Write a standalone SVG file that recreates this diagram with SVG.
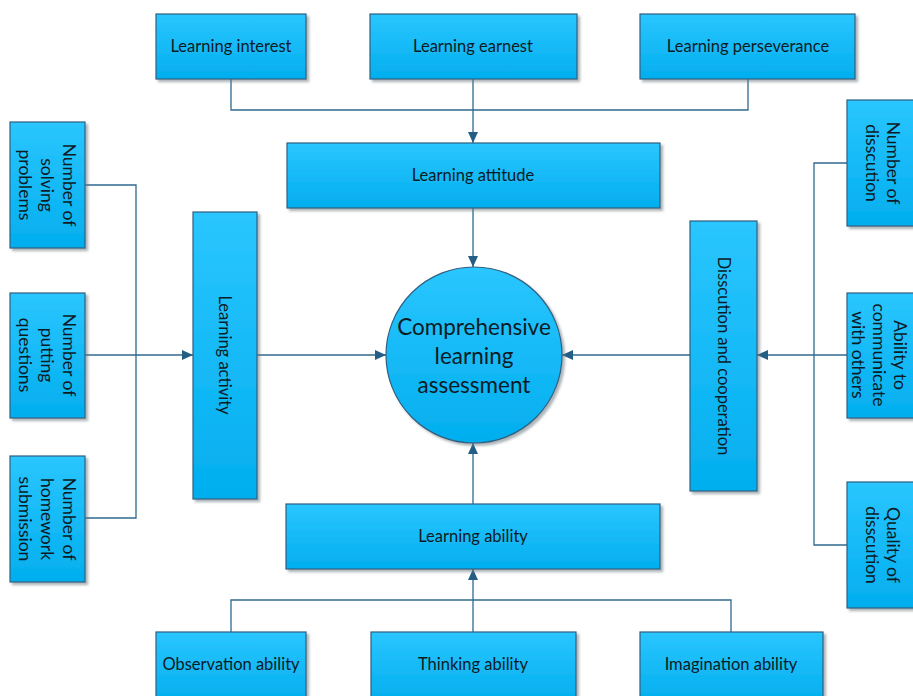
<svg xmlns="http://www.w3.org/2000/svg" width="913" height="696" viewBox="0 0 913 696">
  <defs>
    <linearGradient id="boxFill" x1="0" y1="0" x2="0" y2="1">
      <stop offset="0" stop-color="#2AC6FF"/>
      <stop offset="1" stop-color="#02AEEE"/>
    </linearGradient>
    <filter id="shadow" x="-10%" y="-10%" width="130%" height="130%">
      <feDropShadow dx="2.5" dy="2.5" stdDeviation="1" flood-color="#6b7780" flood-opacity="0.55"/>
    </filter>
    <marker id="arrow" markerWidth="12" markerHeight="10" refX="11" refY="5" orient="auto" markerUnits="userSpaceOnUse">
      <path d="M0,0 L11,5 L0,10 Z" fill="#245E85"/>
    </marker>
  </defs>
  <style>
    .box { fill: url(#boxFill); stroke: #2F5F80; stroke-width: 1.2; filter: url(#shadow); }
    .lbl { font-family: Lato, "Liberation Sans", sans-serif; font-size: 16.5px; fill: #0c1b25; text-anchor: middle; dominant-baseline: central; }
    .sm { font-size: 17.5px; }
    .big { font-size: 22.5px; }
    .wire { fill: none; stroke: #2F6A8E; stroke-width: 1.3; }
    .arr { fill: none; stroke: #2F6A8E; stroke-width: 1.3; marker-end: url(#arrow); }
  </style>

  <rect width="913" height="696" fill="#ffffff"/>

  <!-- connectors -->
  <g id="connectors">
    <!-- attitude branch -->
    <polyline class="wire" points="231,79 231,110 748,110 748,79"/>
    <line class="arr" x1="473" y1="79" x2="473" y2="143"/>
    <line class="arr" x1="473" y1="208" x2="473" y2="267"/>
    <!-- activity branch -->
    <polyline class="wire" points="85,185 136,185 136,518 85,518"/>
    <line class="arr" x1="85" y1="355" x2="193" y2="355"/>
    <line class="arr" x1="257" y1="355" x2="386" y2="355"/>
    <!-- discussion branch -->
    <polyline class="wire" points="847,163 814,163 814,545 847,545"/>
    <line class="arr" x1="847" y1="355" x2="757" y2="355"/>
    <line class="arr" x1="690" y1="355" x2="562" y2="355"/>
    <!-- ability branch -->
    <polyline class="wire" points="231,632 231,600 731,600 731,632"/>
    <line class="arr" x1="473" y1="632" x2="473" y2="569"/>
    <line class="arr" x1="473" y1="504" x2="473" y2="443"/>
  </g>

  <!-- top row -->
  <g id="learning-interest">
    <rect class="box" x="156" y="14" width="150" height="65"/>
    <text class="lbl" x="231" y="46">Learning interest</text>
  </g>
  <g id="learning-earnest">
    <rect class="box" x="370" y="14" width="207" height="65"/>
    <text class="lbl" x="473" y="46">Learning earnest</text>
  </g>
  <g id="learning-perseverance">
    <rect class="box" x="640" y="14" width="215" height="65"/>
    <text class="lbl" x="748" y="46">Learning perseverance</text>
  </g>

  <g id="learning-attitude">
    <rect class="box" x="287" y="143" width="373" height="65"/>
    <text class="lbl" x="473" y="175">Learning attitude</text>
  </g>

  <!-- centre -->
  <g id="comprehensive-assessment">
    <circle class="box" cx="474" cy="355" r="88"/>
    <text class="lbl big" x="474" y="326">Comprehensive</text>
    <text class="lbl big" x="474" y="355">learning</text>
    <text class="lbl big" x="474" y="384">assessment</text>
  </g>

  <!-- left column -->
  <g id="learning-activity">
    <rect class="box" x="193" y="212" width="64" height="287"/>
    <text class="lbl" transform="translate(225,355) rotate(90)">Learning activity</text>
  </g>
  <g id="solving-problems">
    <rect class="box" x="10" y="122" width="75" height="126"/>
    <g transform="translate(47.5,185) rotate(90)">
      <text class="lbl sm" x="0" y="-22">Number of</text>
      <text class="lbl sm" x="0" y="0">solving</text>
      <text class="lbl sm" x="0" y="22">problems</text>
    </g>
  </g>
  <g id="putting-questions">
    <rect class="box" x="10" y="293" width="75" height="125"/>
    <g transform="translate(47.5,355) rotate(90)">
      <text class="lbl sm" x="0" y="-22">Number of</text>
      <text class="lbl sm" x="0" y="0">putting</text>
      <text class="lbl sm" x="0" y="22">questions</text>
    </g>
  </g>
  <g id="homework-submission">
    <rect class="box" x="10" y="456" width="75" height="126"/>
    <g transform="translate(47.5,519) rotate(90)">
      <text class="lbl sm" x="0" y="-22">Number of</text>
      <text class="lbl sm" x="0" y="0">homework</text>
      <text class="lbl sm" x="0" y="22">submission</text>
    </g>
  </g>

  <!-- right column -->
  <g id="discussion-cooperation">
    <rect class="box" x="690" y="221" width="67" height="270"/>
    <text class="lbl" transform="translate(723.5,356) rotate(90)">Disscution and cooperation</text>
  </g>
  <g id="number-of-discussion">
    <rect class="box" x="847" y="100" width="75" height="126"/>
    <g transform="translate(883,163) rotate(90)">
      <text class="lbl sm" x="0" y="-10.5">Number of</text>
      <text class="lbl sm" x="0" y="10.5">disscution</text>
    </g>
  </g>
  <g id="communicate-with-others">
    <rect class="box" x="847" y="293" width="75" height="125"/>
    <g transform="translate(879,355) rotate(90)">
      <text class="lbl sm" x="0" y="-21">Ability to</text>
      <text class="lbl sm" x="0" y="0">communicate</text>
      <text class="lbl sm" x="0" y="21">with others</text>
    </g>
  </g>
  <g id="quality-of-discussion">
    <rect class="box" x="847" y="482" width="75" height="126"/>
    <g transform="translate(883,545) rotate(90)">
      <text class="lbl sm" x="0" y="-10.5">Quality of</text>
      <text class="lbl sm" x="0" y="10.5">disscution</text>
    </g>
  </g>

  <!-- bottom -->
  <g id="learning-ability">
    <rect class="box" x="286" y="504" width="374" height="65"/>
    <text class="lbl" x="473" y="536">Learning ability</text>
  </g>
  <g id="observation-ability">
    <rect class="box" x="156" y="632" width="150" height="70"/>
    <text class="lbl" x="231" y="664">Observation ability</text>
  </g>
  <g id="thinking-ability">
    <rect class="box" x="371" y="632" width="205" height="70"/>
    <text class="lbl" x="473" y="664">Thinking ability</text>
  </g>
  <g id="imagination-ability">
    <rect class="box" x="640" y="632" width="183" height="70"/>
    <text class="lbl" x="731" y="664">Imagination ability</text>
  </g>
</svg>
